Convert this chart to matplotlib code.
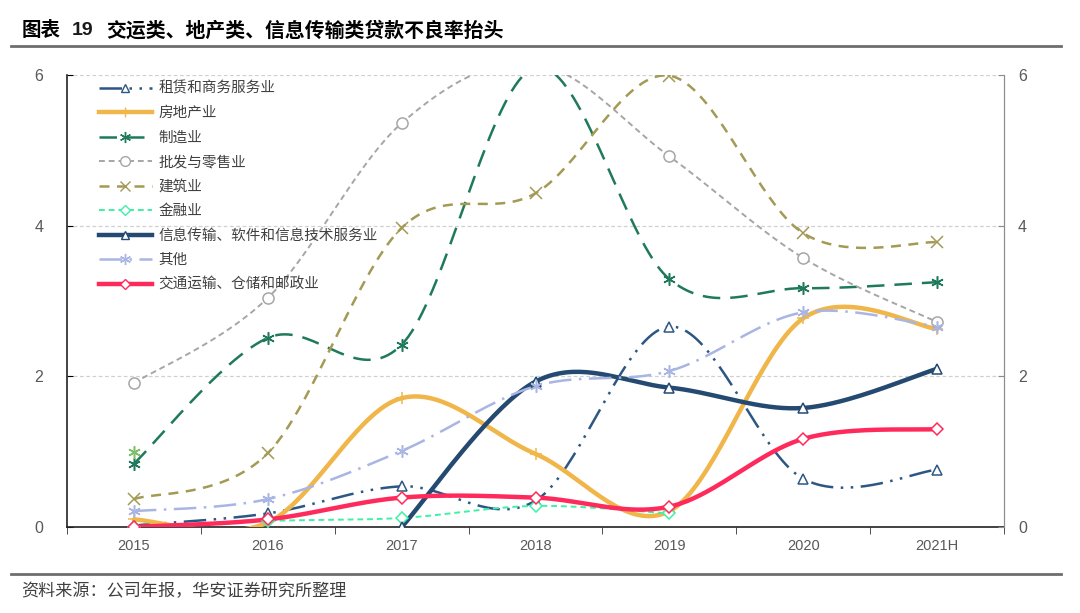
import numpy as np
import matplotlib
matplotlib.use('Agg')
import matplotlib.pyplot as plt
from matplotlib.lines import Line2D

plt.rcParams['font.family'] = ['Noto Sans CJK SC', 'DejaVu Sans']

# Data (non-performing loan ratio, %)
years = ['2015', '2016', '2017', '2018', '2019', '2020', '2021H']
leasing = [0.02, 0.18, 0.54, 0.35, 2.66, 0.64, 0.76]
real_estate = [0.10, 0.06, 1.71, 0.97, 0.21, 2.77, 2.63]
manufacturing = [0.84, 2.51, 2.42, 6.1, 3.29, 3.17, 3.25]
wholesale = [1.91, 3.04, 5.36, 6.15, 4.92, 3.57, 2.72]
construction = [0.37, 0.98, 3.97, 4.43, 5.99, 3.90, 3.78]
finance = [0.0, 0.08, 0.12, 0.28, 0.18, None, None]
it_services = [None, None, 0.0, 1.93, 1.85, 1.58, 2.10]
others = [0.21, 0.37, 1.01, 1.87, 2.07, 2.85, 2.66]
transport = [0.0, 0.10, 0.39, 0.39, 0.27, 1.17, 1.30]
stray_x = ['2015']
stray_y = [1.0]

series = [
    ('租赁和商务服务业', leasing, '#2d5783', 1.8, (0, (9, 3, 1, 3, 1, 3)), '^', 'white', 7),
    ('房地产业', real_estate, '#f0b64a', 3.2, '-', '+', '#f0b64a', 8),
    ('制造业', manufacturing, '#1f7a5a', 1.8, (0, (7, 4)), (6, 2, 0), '#1f7a5a', 9),
    ('批发与零售业', wholesale, '#a6a6a6', 1.4, (0, (3, 2)), 'o', 'white', 8),
    ('建筑业', construction, '#a39a55', 1.8, (0, (4, 3)), 'x', '#a39a55', 8),
    ('金融业', finance, '#3ff0a6', 1.4, (0, (3, 2)), 'D', 'white', 6),
    ('信息传输、软件和信息技术服务业', it_services, '#244a72', 3.2, '-', '^', 'white', 7),
    ('其他', others, '#a9b5e2', 1.8, (0, (9, 3, 1, 3)), (6, 2, 0), '#a9b5e2', 9),
    ('交通运输、仓储和邮政业', transport, '#ff2a5c', 3.2, '-', 'D', 'white', 6),
]


def smooth(xs, ys, n=40):
    # Excel-style smoothed line (Catmull-Rom through the points)
    pts = np.column_stack([xs, ys]).astype(float)
    out = []
    for i in range(len(pts) - 1):
        p0 = pts[i - 1] if i > 0 else pts[i]
        p1, p2 = pts[i], pts[i + 1]
        p3 = pts[i + 2] if i + 2 < len(pts) else pts[i + 1]
        c1 = p1 + (p2 - p0) / 6.
        c2 = p2 - (p3 - p1) / 6.
        t = np.linspace(0, 1, n)[:, None]
        seg = ((1 - t) ** 3) * p1 + 3 * ((1 - t) ** 2) * t * c1 + 3 * (1 - t) * t ** 2 * c2 + t ** 3 * p2
        out.append(seg)
    out = np.vstack(out)
    return out[:, 0], out[:, 1]


fig = plt.figure(figsize=(10.8, 6.13), dpi=100)
ax = fig.add_axes([0.062, 0.1403, 0.8677, 0.7374])

x_all = np.arange(len(years))
handles = []
for name, vals, color, lw, ls, mk, mfc, ms in series:
    idx = [i for i, v in enumerate(vals) if v is not None]
    xs = x_all[idx]
    ys = np.array([vals[i] for i in idx])
    sx, sy = smooth(xs, ys)
    ax.plot(sx, sy, color=color, lw=lw, linestyle=ls, solid_capstyle='round', zorder=3)
    ax.plot(xs, ys, linestyle='none', marker=mk, markersize=ms, markerfacecolor=mfc,
            markeredgecolor=color, markeredgewidth=1.1, zorder=4)
    handles.append(Line2D([], [], color=color, lw=lw, linestyle=ls, marker=mk, markersize=ms - 1,
                          markerfacecolor=mfc, markeredgecolor=color, markeredgewidth=1.0))

# stray marker at 2015
ax.plot([years.index(s) for s in stray_x], stray_y, linestyle='none', marker=(6, 2, 0),
        markersize=9, markeredgecolor='#7fbf6a', markeredgewidth=1.1, zorder=4)

ax.set_xlim(-0.5, len(years) - 0.5)
ax.set_ylim(0, 6)
ax.set_yticks([0, 2, 4, 6])
ax.set_xticks(x_all)
ax.set_xticklabels(years, family=['Liberation Sans'], fontsize=10.5, color='#595959')
ax.set_xticks(np.arange(-0.5, len(years)), minor=True)
ax.tick_params(axis='x', which='major', length=0, pad=9)
ax.tick_params(axis='x', which='minor', length=5, direction='out', color='#333333')
ax.tick_params(axis='y', length=4, direction='in', labelsize=11.5, labelcolor='#595959', pad=17)
for lab in ax.get_yticklabels():
    lab.set_family(['Liberation Sans'])
ax.grid(axis='y', linestyle=(0, (3, 2)), color='#d0d0d0', lw=0.9)
ax.spines['top'].set_visible(False)
ax.spines['left'].set_color('#222222')
ax.spines['bottom'].set_color('#222222')
ax.spines['right'].set_color('#8c8c8c')
ax.spines['left'].set_linewidth(1.2)
ax.spines['bottom'].set_linewidth(1.2)

ax2 = ax.twinx()
ax2.set_ylim(0, 6)
ax2.set_yticks([0, 2, 4, 6])
ax2.tick_params(axis='y', length=4, direction='in', labelsize=11.5, labelcolor='#595959', pad=10,
                color='#8c8c8c')
for lab in ax2.get_yticklabels():
    lab.set_family(['Liberation Sans'])
for s in ['top', 'left', 'bottom']:
    ax2.spines[s].set_visible(False)
ax2.spines['right'].set_color('#8c8c8c')

leg = ax.legend(handles, [s[0] for s in series], loc='upper left', bbox_to_anchor=(0.025, 1.005),
                frameon=False, fontsize=10.5, handlelength=3.6, handletextpad=0.45,
                labelspacing=0.72, numpoints=1, borderaxespad=0.2)
for t in leg.get_texts():
    t.set_color('#404040')

# title, rules and source note
fig.text(0.02, 0.951, '图表', fontsize=14, fontweight='bold', ha='left', va='center')
fig.text(0.066, 0.951, '19', fontsize=14, fontweight='bold', ha='left', va='center',
         family=['Liberation Sans'], color='#1a1a1a')
fig.text(0.098, 0.951, '交运类、地产类、信息传输类贷款不良率抬头', fontsize=14.3, fontweight='bold',
         ha='left', va='center')
fig.add_artist(Line2D([0.01, 0.982], [0.925, 0.925], color='#6e6e6e', lw=2, transform=fig.transFigure))
fig.add_artist(Line2D([0.01, 0.982], [0.064, 0.064], color='#6e6e6e', lw=2, transform=fig.transFigure))
fig.text(0.02, 0.036, '资料来源：公司年报，华安证券研究所整理', fontsize=12.3, color='#404040',
         ha='left', va='center')

fig.savefig('out.png', dpi=100)
